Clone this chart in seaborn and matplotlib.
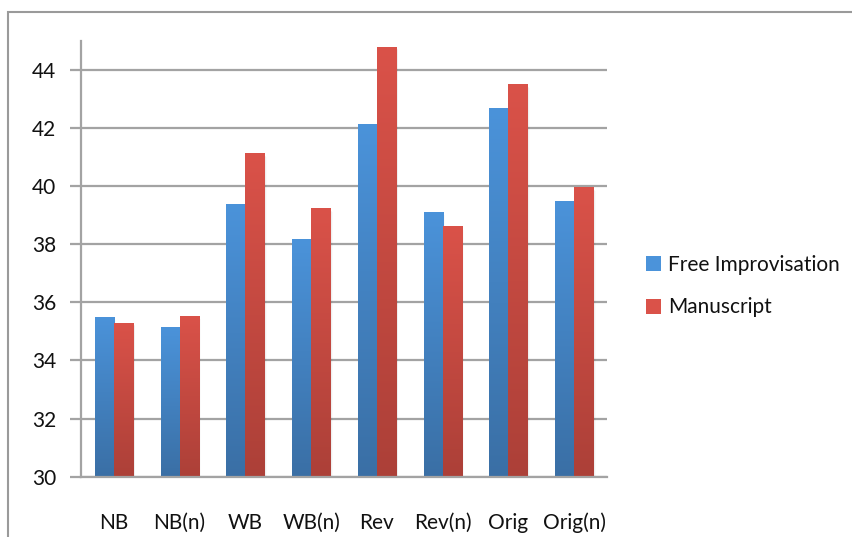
import numpy as np
import pandas as pd
import matplotlib
matplotlib.use("Agg")
import matplotlib.pyplot as plt
from matplotlib.patches import Rectangle
from matplotlib.colors import LinearSegmentedColormap
import seaborn as sns

categories = ["NB", "NB(n)", "WB", "WB(n)", "Rev", "Rev(n)", "Orig", "Orig(n)"]
free_improvisation = [35.51, 35.16, 39.38, 38.17, 42.14, 39.12, 42.69, 39.50]
manuscript = [35.30, 35.54, 41.12, 39.23, 44.80, 38.61, 43.50, 39.96]
series_names = ["Free Improvisation", "Manuscript"]
y_ticks = [30, 32, 34, 36, 38, 40, 42, 44]

df = pd.DataFrame({
    "category": categories * 2,
    "value": free_improvisation + manuscript,
    "series": [series_names[0]] * len(categories) + [series_names[1]] * len(categories),
})

sns.set_theme(style="white")
plt.rcParams["font.family"] = ["Lato", "DejaVu Sans"]

W, H = 852, 537
fig = plt.figure(figsize=(W / 100, H / 100), dpi=100)
ax = fig.add_axes([81 / W, 1 - 476.7 / H, (607 - 81) / W, (476.7 - 40.7) / H])

Y_MIN, Y_MAX = 30, 45
base_colors = {series_names[0]: "#4a8fd4", series_names[1]: "#d65048"}
grad = {
    series_names[0]: ("#4b93da", "#3a6fa5"),
    series_names[1]: ("#da5249", "#ac4038"),
}

sns.barplot(data=df, x="category", y="value", hue="series", order=categories,
            hue_order=series_names, palette=base_colors, width=0.58,
            saturation=1, ax=ax, legend=False, zorder=3, linewidth=0)

# vertical gradient fill + soft shadow on each bar (visible part only)
bars = [p for p in ax.patches if isinstance(p, Rectangle)]
n = len(categories)
for i, bar in enumerate(bars):
    name = series_names[i // n]
    x0, w = bar.get_x(), bar.get_width()
    top = bar.get_y() + bar.get_height()
    for k, a in enumerate([0.07, 0.045, 0.02]):
        dx = 0.012 * (k + 1)
        ax.add_patch(Rectangle((x0 + dx, Y_MIN), w, top - Y_MIN - 0.04 * (k + 1),
                               facecolor="black", alpha=a, linewidth=0, zorder=2))
    cmap = LinearSegmentedColormap.from_list(name, [grad[name][1], grad[name][0]])
    img = ax.imshow(np.linspace(0, 1, 256).reshape(-1, 1), cmap=cmap, aspect="auto",
                    extent=(x0, x0 + w, Y_MIN, top), origin="lower", zorder=4,
                    interpolation="bicubic")
    clip = Rectangle((x0, Y_MIN), w, top - Y_MIN, transform=ax.transData)
    img.set_clip_path(clip)

ax.set_aspect("auto")
ax.set_xlim(-0.5, len(categories) - 0.5)
ax.set_ylim(Y_MIN, Y_MAX)

grid_color = "#a3a3a3"
ax.set_yticks(y_ticks)
ax.yaxis.grid(True, color=grid_color, linewidth=1.6, zorder=0)
ax.set_axisbelow(True)
for s in ["top", "right"]:
    ax.spines[s].set_visible(False)
for s in ["left", "bottom"]:
    ax.spines[s].set_color(grid_color)
    ax.spines[s].set_linewidth(1.6)
    ax.spines[s].set_zorder(5)

ax.set_xticks(range(len(categories)))
ax.set_xticklabels(categories)
ax.set_xticks(np.arange(-0.5, len(categories)), minor=True)
ax.tick_params(axis="x", which="major", length=0, pad=26, labelsize=15, labelcolor="#111111")
ax.tick_params(axis="x", which="minor", length=6, width=1.6, color=grid_color, direction="out")
ax.tick_params(axis="y", which="major", length=8, width=1.6, color=grid_color, direction="out",
               left=True, pad=10, labelsize=15, labelcolor="#111111")
ax.set_xlabel("")
ax.set_ylabel("")

# legend
handles = [Rectangle((0, 0), 1, 1, facecolor=grad[s][0], edgecolor="none") for s in series_names]
fig.legend(handles, series_names, loc="center left", bbox_to_anchor=(627 / W, 1 - 286 / H),
           frameon=False, fontsize=15, handlelength=0.75, handleheight=0.75,
           handletextpad=0.3, labelspacing=1.1, labelcolor="#111111")

# chart area frame
fig.add_artist(Rectangle((8 / W, -0.05), 1.1, 1 - 12 / H + 0.05, transform=fig.transFigure,
                         facecolor="none", edgecolor="#9a9a9a", linewidth=1.5))

fig.savefig("out.png", dpi=100)
